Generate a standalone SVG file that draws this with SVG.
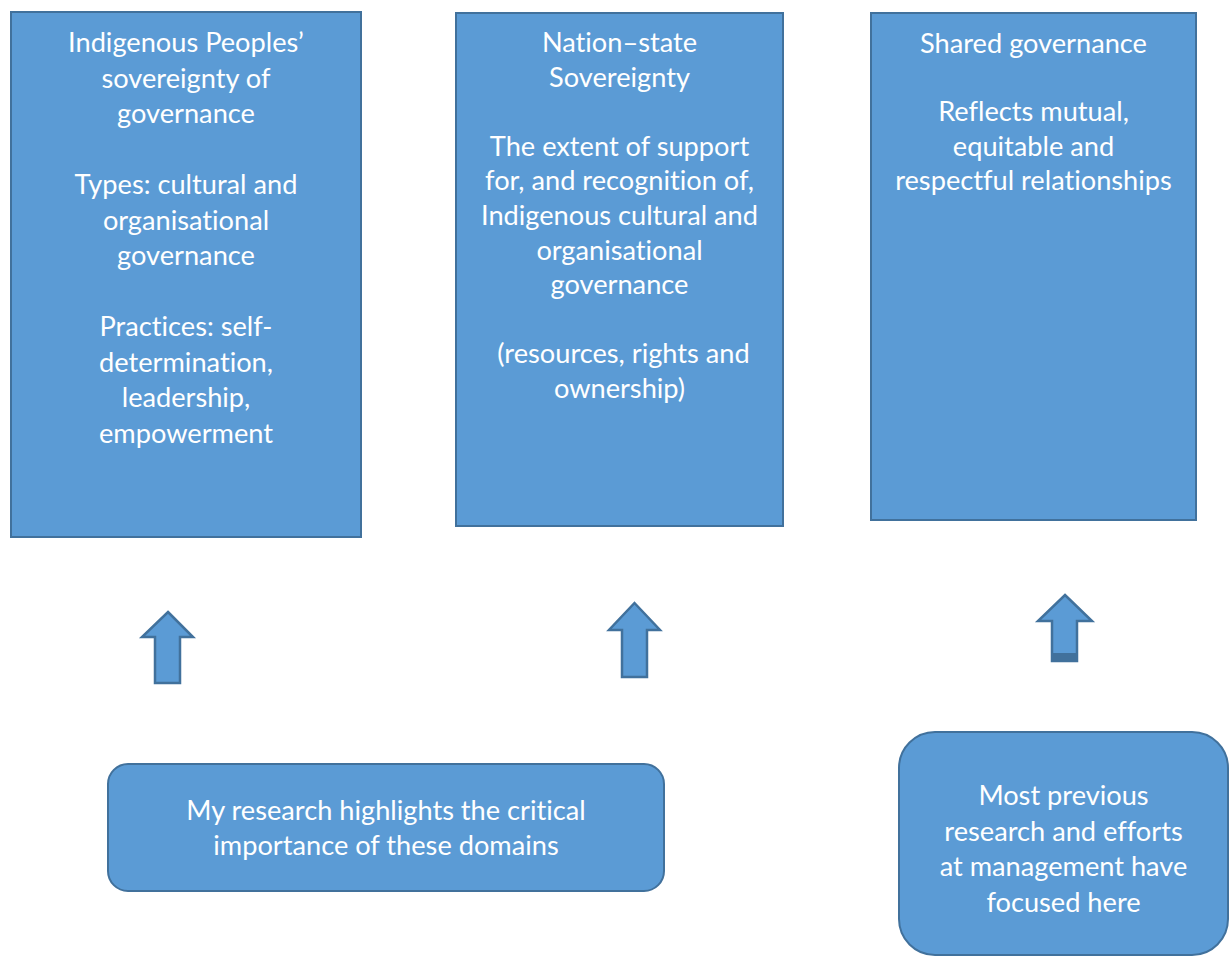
<svg xmlns="http://www.w3.org/2000/svg" width="1229" height="960" viewBox="0 0 1229 960">
  <style>
    .box { fill: #5B9BD5; stroke: #41719C; stroke-width: 2; }
    .arrow { fill: #5B9BD5; stroke: #41719C; stroke-width: 2.5; stroke-linejoin: miter; }
    .label { fill: #FFFFFF; font-family: Lato, "Open Sans", "Liberation Sans", sans-serif; font-size: 27.2px; text-anchor: middle; font-variant-ligatures: none; }
  </style>
  <rect width="1229" height="960" fill="#FFFFFF"/>

  <!-- Domain: Indigenous Peoples' sovereignty -->
  <g id="indigenous-sovereignty">
    <rect class="box" x="11" y="12" width="350" height="525"/>
    <text class="label" x="186" y="52">Indigenous Peoples’</text>
    <text class="label" x="186" y="87.5">sovereignty of</text>
    <text class="label" x="186" y="123">governance</text>
    <text class="label" x="186" y="194">Types: cultural and</text>
    <text class="label" x="186" y="229.5">organisational</text>
    <text class="label" x="186" y="265">governance</text>
    <text class="label" x="186" y="336">Practices: self-</text>
    <text class="label" x="186" y="371.5">determination,</text>
    <text class="label" x="186" y="407">leadership,</text>
    <text class="label" x="186" y="442.5">empowerment</text>
  </g>

  <!-- Domain: nation-state sovereignty -->
  <g id="nation-state-sovereignty">
    <rect class="box" x="456" y="13" width="327" height="513"/>
    <text class="label" x="619.5" y="52">Nation–state</text>
    <text class="label" x="619.5" y="86.6">Sovereignty</text>
    <text class="label" x="619.5" y="155.8">The extent of support</text>
    <text class="label" x="619.5" y="190.4">for, and recognition of,</text>
    <text class="label" x="619.5" y="225">Indigenous cultural and</text>
    <text class="label" x="619.5" y="259.6">organisational</text>
    <text class="label" x="619.5" y="294.2">governance</text>
    <text class="label" x="623.5" y="363.4">(resources, rights and</text>
    <text class="label" x="619.5" y="398">ownership)</text>
  </g>

  <!-- Domain: shared governance -->
  <g id="shared-governance">
    <rect class="box" x="871" y="13" width="325" height="507"/>
    <text class="label" x="1033.5" y="52.5">Shared governance</text>
    <text class="label" x="1033.5" y="121">Reflects mutual,</text>
    <text class="label" x="1033.5" y="155.5">equitable and</text>
    <text class="label" x="1033.5" y="190">respectful relationships</text>
  </g>

  <!-- Block arrows pointing up at each domain -->
  <g id="connectors">
    <path class="arrow" d="M168,612 L193,637 L180,637 L180,683 L155,683 L155,637 L142,637 Z"/>
    <path class="arrow" d="M634.5,603 L660,630 L647,630 L647,677 L622,677 L622,630 L609,630 Z"/>
    <path class="arrow" d="M1065,595 L1092,621 L1077,621 L1077,661 L1052,661 L1052,621 L1038,621 Z"/>
    <rect x="1052" y="653" width="25" height="8" fill="#41719C"/>
  </g>

  <!-- Notes -->
  <g id="research-note">
    <rect class="box" x="108" y="764" width="556" height="127" rx="20" ry="20"/>
    <text class="label" x="386" y="820">My research highlights the critical</text>
    <text class="label" x="386" y="855">importance of these domains</text>
  </g>

  <g id="previous-research-note">
    <rect class="box" x="899" y="732" width="329" height="223" rx="36" ry="36"/>
    <text class="label" x="1063.5" y="805">Most previous</text>
    <text class="label" x="1063.5" y="841">research and efforts</text>
    <text class="label" x="1063.5" y="876">at management have</text>
    <text class="label" x="1063.5" y="912">focused here</text>
  </g>
</svg>
